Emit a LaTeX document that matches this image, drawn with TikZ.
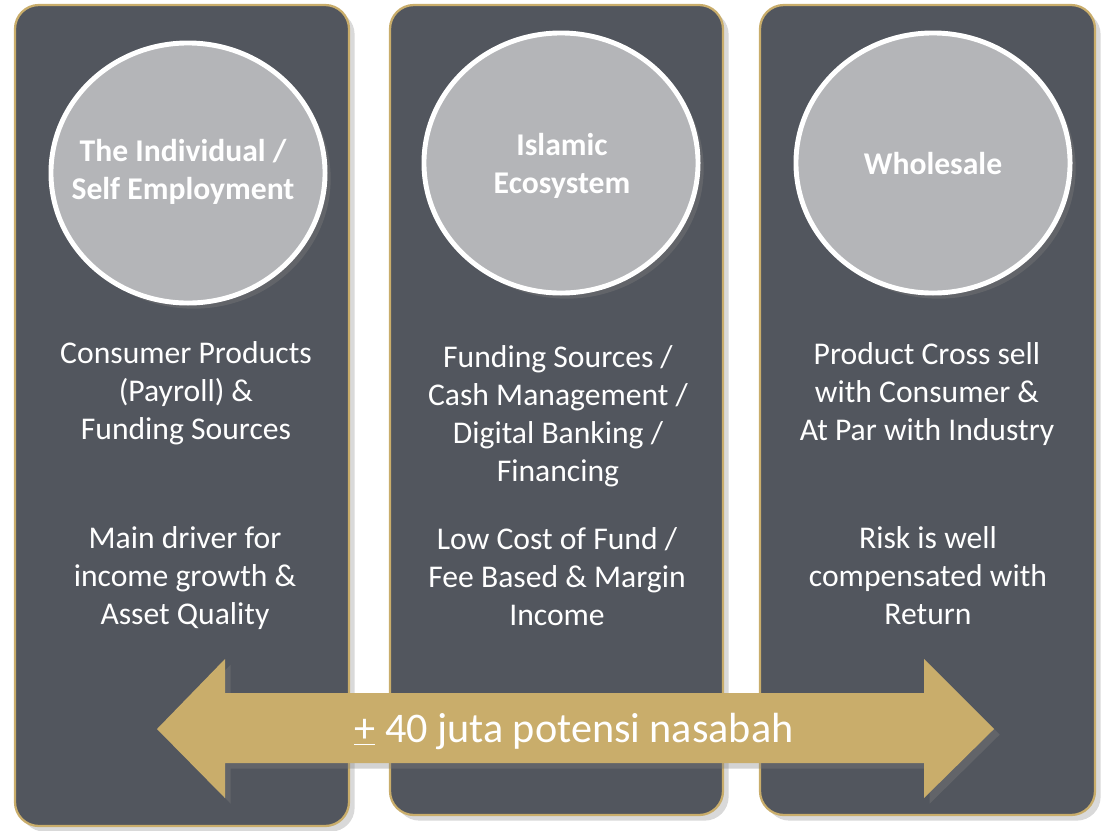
\documentclass[tikz,border=0pt]{standalone}
\usepackage{fontspec}
\setmainfont{Carlito}
\usetikzlibrary{shapes.geometric,shadows}
\definecolor{panelgray}{HTML}{52565E}
\definecolor{gold}{HTML}{C9AD6B}
\definecolor{discgray}{HTML}{B4B5B8}

\begin{document}
\begin{tikzpicture}[x=0.025cm,y=-0.025cm,
    panel/.style={fill=panelgray,draw=gold,line width=1.6pt,rounded corners=17pt,
      drop shadow={opacity=0.3,shadow xshift=4pt,shadow yshift=-4pt}},
    disc/.style={ellipse,fill=discgray,draw=white,line width=3.5pt,inner sep=0pt,
      minimum width=6.85cm,minimum height=6.5cm,
      drop shadow={opacity=0.35,shadow xshift=4pt,shadow yshift=-4pt}},
    title/.style={text=white,align=center,font=\bfseries\fontsize{22.5}{27}\selectfont},
    body/.style={text=white,align=center,font=\fontsize{22.5}{27}\selectfont}]
  \useasboundingbox (0,0) rectangle (1102,830);

  % Panels
  \draw[panel] (15,5) rectangle (349,826);
  \draw[panel] (390,5) rectangle (723,815);
  \draw[panel] (760,5) rectangle (1095,815);

  % Circles
  \node[disc] (indiv) at (188,173) {};
  \node[disc] (islamic) at (561,163) {};
  \node[disc] (whole) at (933,163) {};
  \node[title] (indivtext) at (183,172) {The Individual /\\Self Employment};
  \node[title] (islamictext) at (562,166) {Islamic\\Ecosystem};
  \node[title] (wholetext) at (933,164) {Wholesale};

  % Texts in the panels
  \node[body] (consumer) at (186,393) {Consumer Products\\(Payroll) \&\\Funding Sources};
  \node[body] (driver) at (185,578) {Main driver for\\income growth \&\\Asset Quality};
  \node[body] (funding) at (558,416) {Funding Sources /\\Cash Management /\\Digital Banking /\\Financing};
  \node[body] (cost) at (557,577) {Low Cost of Fund /\\Fee Based \& Margin\\Income};
  \node[body] (cross) at (927,394) {Product Cross sell\\with Consumer \&\\At Par with Industry};
  \node[body] (risk) at (928,576) {Risk is well\\compensated with\\Return};

  % Double arrow
  \fill[gold,drop shadow={opacity=0.35,shadow xshift=4pt,shadow yshift=-4pt}]
    (157,729) -- (225,659) -- (225,693) -- (924,693) -- (924,659) -- (994,729)
    -- (924,798) -- (924,763) -- (225,763) -- (225,798) -- cycle;
  \node[text=white,font=\fontsize{30}{36}\selectfont] (nasabah) at (574,731)
    {\underline{+} 40 juta potensi nasabah};
\end{tikzpicture}
\end{document}
